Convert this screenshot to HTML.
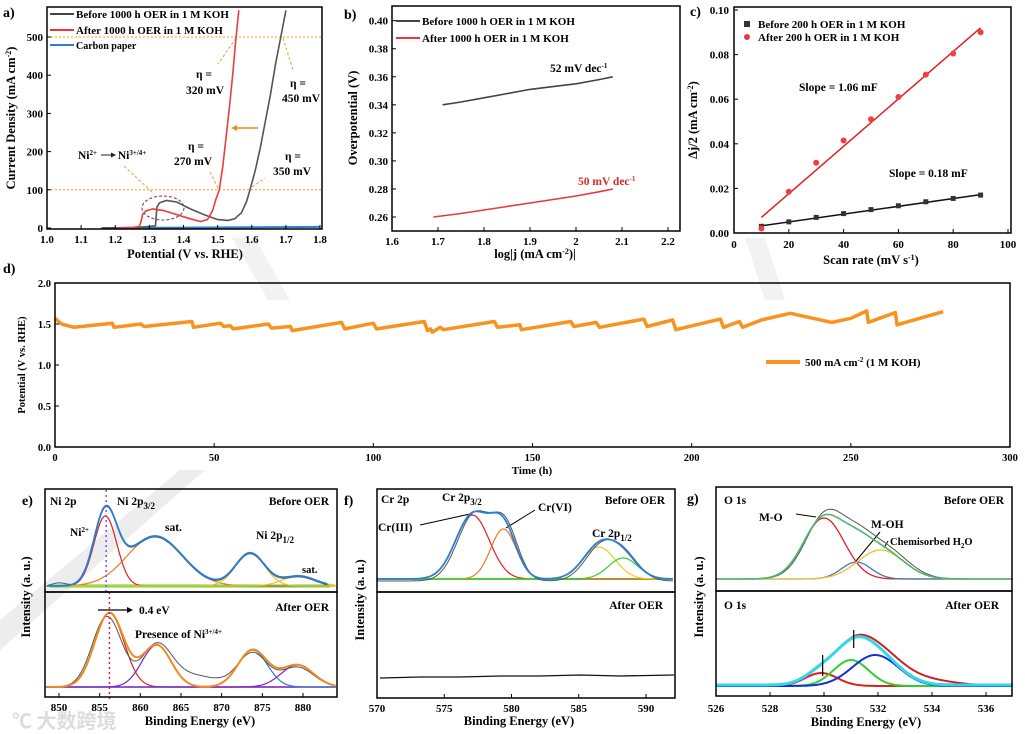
<!DOCTYPE html>
<html><head><meta charset="utf-8">
<style>
html,body{margin:0;padding:0;background:#fff;}
svg{display:block;font-family:"Liberation Serif","Noto Serif CJK SC",serif;font-weight:bold;}
.tk{font-size:11px;}
.tt{font-size:12.5px;}
.lg{font-size:11px;}
.an{font-size:11.5px;}
</style></head>
<body>
<svg id="chart" width="1025" height="734" viewBox="0 0 1025 734" xmlns="http://www.w3.org/2000/svg">
<rect x="0" y="0" width="1025" height="734" fill="#fff"/>
<polygon points="0,650 0,620 180,470 205,470" fill="#ededed"/>
<polygon points="232,238 255,238 290,300 268,300" fill="#f2f2f2"/>
<polygon points="745,238 765,238 785,300 765,300" fill="#f2f2f2"/>
<text x="12" y="728" fill="#dcdcdc" font-size="20" font-family="'Noto Sans CJK SC',sans-serif">℃ 大数跨境</text>

<!-- panel a -->
<g>
<text x="3" y="17" font-size="14">a)</text>
<text transform="translate(15,118) rotate(-90)" text-anchor="middle" class="tt">Current Density (mA cm<tspan dy="-4" font-size="8">-2</tspan><tspan dy="4">)</tspan></text>
<text x="185" y="258" text-anchor="middle" class="tt">Potential (V vs. RHE)</text>
<g class="lg">
<line x1="50" y1="14" x2="74" y2="14" stroke="#444" stroke-width="2"/>
<text x="76" y="18">Before 1000 h OER in 1 M KOH</text>
<line x1="50" y1="30" x2="74" y2="30" stroke="#e8383d" stroke-width="2"/>
<text x="76" y="34">After 1000 h OER in 1 M KOH</text>
<line x1="50" y1="45" x2="74" y2="45" stroke="#2a7fd4" stroke-width="2"/>
<text x="76" y="49" font-size="10">Carbon paper</text>
</g>
<g class="an">
<text x="196" y="78">η =</text>
<text x="186" y="94">320 mV</text>
<text x="290" y="87">η =</text>
<text x="282" y="102">450 mV</text>
<text x="188" y="150">η =</text>
<text x="174" y="165">270 mV</text>
<text x="285" y="160">η =</text>
<text x="273" y="175">350 mV</text>
<text x="78" y="159">Ni<tspan dy="-4" font-size="7">2+</tspan><tspan dy="4"> </tspan><tspan dx="18">Ni</tspan><tspan dy="-4" font-size="7">3+/4+</tspan></text>
</g>
<line x1="101" y1="155" x2="113" y2="155" stroke="#222" stroke-width="1"/>
<polygon points="116,155 111,152.5 111,157.5" fill="#222"/>
<ellipse cx="163" cy="208" rx="21" ry="12" fill="none" stroke="#8a2a6a" stroke-dasharray="3,2"/>
<g stroke="#f0a040" stroke-dasharray="3,2" stroke-width="1" fill="none">
<line x1="124" y1="166" x2="152" y2="192"/>
<line x1="236" y1="38" x2="218" y2="64"/>
<line x1="283" y1="38" x2="293" y2="70"/>
<line x1="218" y1="188" x2="210" y2="172"/>
<line x1="252" y1="187" x2="265" y2="178"/>
</g>
<line x1="258" y1="128" x2="236" y2="128" stroke="#f08a10" stroke-width="1.5"/>
<polygon points="231,128 237,125 237,131" fill="#f08a10"/>
</g>

<!-- panel b -->
<g>
<text x="344" y="19" font-size="14">b)</text>
<text transform="translate(357,118) rotate(-90)" text-anchor="middle" class="tt">Overpotential (V)</text>
<text x="535" y="258" text-anchor="middle" class="tt">log|j (mA cm<tspan dy="-4" font-size="8">-2</tspan><tspan dy="4">)|</tspan></text>
<line x1="396" y1="21" x2="420" y2="21" stroke="#444" stroke-width="2"/>
<text x="422" y="25" class="lg">Before 1000 h OER in 1 M KOH</text>
<line x1="396" y1="38" x2="420" y2="38" stroke="#e8383d" stroke-width="2"/>
<text x="422" y="42" class="lg">After 1000 h OER in 1 M KOH</text>
<text x="550" y="72" class="an">52 mV dec<tspan dy="-4" font-size="7">-1</tspan></text>
<text x="578" y="185" class="an" fill="#d62a2a">50 mV dec<tspan dy="-4" font-size="7">-1</tspan></text>
</g>

<!-- panel c -->
<g>
<text x="690" y="16" font-size="14">c)</text>
<text transform="translate(697,120) rotate(-90)" text-anchor="middle" class="tt">Δj/2 (mA cm<tspan dy="-4" font-size="8">-2</tspan><tspan dy="4">)</tspan></text>
<text x="871" y="264" text-anchor="middle" class="tt">Scan rate (mV s<tspan dy="-4" font-size="8">-1</tspan><tspan dy="4">)</tspan></text>
<rect x="744" y="21" width="6" height="6" fill="#333"/>
<text x="758" y="28" class="lg">Before 200 h OER in 1 M KOH</text>
<circle cx="747" cy="37" r="3" fill="#e8383d"/>
<text x="758" y="41" class="lg">After 200 h OER in 1 M KOH</text>
<text x="799" y="91" class="an">Slope = 1.06 mF</text>
<text x="889" y="177" class="an">Slope = 0.18 mF</text>
</g>

<!-- panel d -->
<g>
<text x="3" y="273" font-size="14">d)</text>
<text transform="translate(25,365) rotate(-90)" text-anchor="middle" font-size="10.5">Potential (V vs. RHE)</text>
<text x="532" y="474" text-anchor="middle" font-size="11">Time (h)</text>
<line x1="766" y1="362" x2="800" y2="362" stroke="#f7931e" stroke-width="4"/>
<text x="805" y="366" font-size="11">500 mA cm<tspan dy="-4" font-size="7">-2</tspan><tspan dy="4"> (1 M KOH)</tspan></text>
</g>

<!-- panel e -->
<g>
<text x="22" y="505" font-size="14">e)</text>
<text transform="translate(30,597) rotate(-90)" text-anchor="middle" class="tt">Intensity (a. u.)</text>
<text x="200" y="725" text-anchor="middle" class="tt">Binding Energy (eV)</text>
<text x="50" y="505" class="an">Ni 2p</text>
<text x="117" y="505" class="an">Ni 2p<tspan dy="4" font-size="9">3/2</tspan></text>
<text x="329" y="505" text-anchor="end" class="an">Before OER</text>
<text x="70" y="536" class="an">Ni<tspan dy="-4" font-size="7">2+</tspan></text>
<text x="165" y="531" class="an">sat.</text>
<text x="256" y="539" class="an">Ni 2p<tspan dy="4" font-size="9">1/2</tspan></text>
<text x="302" y="573" font-size="10.5">sat.</text>
<text x="329" y="611" text-anchor="end" class="an">After OER</text>
<line x1="98" y1="610" x2="128" y2="610" stroke="#000" stroke-width="1.2"/>
<polygon points="133,610 127,607 127,613" fill="#000"/>
<text x="139" y="614" class="an">0.4 eV</text>
<text x="135" y="638" class="an">Presence of Ni<tspan dy="-4" font-size="7">3+/4+</tspan></text>
</g>

<!-- panel f -->
<g>
<text x="344" y="505" font-size="14">f)</text>
<text transform="translate(364,600) rotate(-90)" text-anchor="middle" class="tt">Intensity (a. u.)</text>
<text x="519" y="725" text-anchor="middle" class="tt">Binding Energy (eV)</text>
<text x="381" y="503" class="an">Cr 2p</text>
<text x="442" y="501" class="an">Cr 2p<tspan dy="4" font-size="9">3/2</tspan></text>
<text x="538" y="511" class="an">Cr(VI)</text>
<text x="665" y="504" text-anchor="end" class="an">Before OER</text>
<text x="378" y="531" class="an">Cr(III)</text>
<text x="592" y="537" class="an">Cr 2p<tspan dy="4" font-size="9">1/2</tspan></text>
<text x="663" y="609" text-anchor="end" class="an">After OER</text>
<line x1="420" y1="525" x2="470" y2="514" stroke="#000"/>
<line x1="535" y1="510" x2="506" y2="528" stroke="#000"/>
</g>

<!-- panel g -->
<g>
<text x="687" y="503" font-size="14">g)</text>
<text transform="translate(703,597) rotate(-90)" text-anchor="middle" class="tt">Intensity (a. u.)</text>
<text x="866" y="726" text-anchor="middle" class="tt">Binding Energy (eV)</text>
<text x="724" y="504" class="an">O 1s</text>
<text x="1004" y="504" text-anchor="end" class="an">Before OER</text>
<text x="759" y="521" class="an">M-O</text>
<text x="871" y="528" class="an">M-OH</text>
<text x="890" y="545" font-size="10.5">Chemisorbed H<tspan dy="3" font-size="7">2</tspan><tspan dy="-3">O</tspan></text>
<text x="724" y="609" class="an">O 1s</text>
<text x="999" y="609" text-anchor="end" class="an">After OER</text>
<line x1="796" y1="514" x2="816" y2="517" stroke="#000"/>
<line x1="880" y1="532" x2="856" y2="561" stroke="#000"/>
<line x1="888" y1="541" x2="884" y2="548" stroke="#000"/>
</g>
</svg>
<script>
// ---------- data ----------
const aBeforeV = [1.16,1.25,1.30,1.318,1.322,1.33,1.35,1.38,1.42,1.46,1.50,1.53,1.55,1.57,1.585,1.595,1.61,1.625,1.64,1.655,1.67,1.685,1.70];
const aBeforeJ = [0,1,4,6,55,66,72,68,50,35,22,20,24,40,70,100,150,210,280,350,430,500,570];
const aAfterV = [1.20,1.25,1.27,1.275,1.28,1.29,1.31,1.34,1.38,1.42,1.45,1.47,1.485,1.495,1.505,1.515,1.525,1.535,1.545,1.553,1.562];
const aAfterJ = [0,1,4,15,35,45,50,46,35,24,17,22,45,75,100,160,240,320,410,490,570];
const aCarbonV = [1.16,1.4,1.6,1.8];
const aCarbonJ = [0,1,2,3];
const aXTicks = [1.0,1.1,1.2,1.3,1.4,1.5,1.6,1.7,1.8];
const aYTicks = [0,100,200,300,400,500];
const aRefLines = [100,500];
const bBeforeX = [1.71,1.75,1.80,1.85,1.90,1.95,2.00,2.05,2.08];
const bBeforeY = [0.340,0.342,0.345,0.348,0.351,0.353,0.355,0.358,0.360];
const bAfterX = [1.69,1.75,1.80,1.85,1.90,1.95,2.00,2.05,2.08];
const bAfterY = [0.260,0.2625,0.265,0.2675,0.270,0.2725,0.275,0.278,0.280];
const bXTicks = [1.6,1.7,1.8,1.9,2.0,2.1,2.2];
const bXTickLabels = ['1.6','1.7','1.8','1.9','2','2.1','2.2'];
const bYTicks = [0.26,0.28,0.30,0.32,0.34,0.36,0.38,0.40];
const cScan = [10,20,30,40,50,60,70,80,90];
const cBefore = [0.003,0.005,0.007,0.0087,0.0105,0.0122,0.014,0.0155,0.017];
const cAfter = [0.002,0.0185,0.0315,0.0415,0.051,0.061,0.071,0.0805,0.090];
const cFitBefore = [0.0032,0.0172];
const cFitAfter = [0.007,0.092];
const cXTicks = [0,20,40,60,80,100];
const cYTicks = [0,0.02,0.04,0.06,0.08,0.10];
const dTime = [0,2,6,18,18.5,27,28,43,43.5,52,53,55,56,67,68,74,74.5,90,91,100,101,116,117,118,118.5,121,122,138,139,146,146.5,162,163,170,171,185,186,194,195,209,210,215,216,222,231,244,250,255,255.5,264,264.5,279];
const dPot = [1.57,1.50,1.46,1.51,1.46,1.50,1.47,1.53,1.46,1.51,1.47,1.48,1.44,1.50,1.45,1.47,1.42,1.52,1.44,1.51,1.44,1.53,1.42,1.44,1.40,1.46,1.43,1.53,1.46,1.49,1.43,1.53,1.47,1.52,1.46,1.56,1.47,1.55,1.43,1.56,1.46,1.53,1.46,1.55,1.63,1.52,1.57,1.66,1.52,1.64,1.49,1.65];
const dXTicks = [0,50,100,150,200,250,300];
const dYTicks = [0,0.5,1.0,1.5,2.0];
const eBeforeCenters = [855.7,861.8,873.5,879.5];
const eBeforeHeights = [70,50,33,10];
const eBeforeSigmas = [1.4,3.4,1.8,2.0];
const eAfterCenters = [856.2,862.0,873.8,879.3];
const eAfterHeights = [74,42,37,22];
const eAfterSigmas = [1.8,1.8,1.8,2.0];
const fBeforeCenters = [577.1,579.4,586.5,588.3];
const fBeforeHeights = [64,50,32,21];
const fBeforeSigmas = [1.25,0.95,1.2,1.1];
const gBeforeCenters = [530.0,531.2,532.1];
const gBeforeHeights = [61,17,29];
const gBeforeSigmas = [0.75,0.55,0.85];
const gAfterCenters = [529.9,531.0,531.9];
const gAfterHeights = [13,26,31];
const gAfterSigmas = [0.6,0.65,0.85];
const eXTicks = [850,855,860,865,870,875,880];
const fXTicks = [570,575,580,585,590];
const gXTicks = [526,528,530,532,534,536];

const NS = 'http://www.w3.org/2000/svg';
const svg = document.getElementById('chart');
function mk(tag, attrs){const e=document.createElementNS(NS,tag);for(const k in attrs)e.setAttribute(k,attrs[k]);svg.appendChild(e);return e;}
function lin(d0,d1,r0,r1){return v=>r0+(v-d0)*(r1-r0)/(d1-d0);}
function poly(xs,ys,fx,fy){return xs.map((x,i)=>(i?'L':'M')+fx(x).toFixed(1)+','+fy(ys[i]).toFixed(1)).join('');}
function frame(x0,y0,x1,y1,name){
  const r=mk('rect',{x:x0,y:y0,width:x1-x0,height:y1-y0,fill:'none',stroke:'#000','stroke-width':1.5});
  
  
}
function xTicks(ticks,labels,fx,y,ly,name,fs){
  ticks.forEach((t,i)=>{
    const l=mk('line',{x1:fx(t),y1:y,x2:fx(t),y2:y-4,stroke:'#000'});
    
    
    const tx=mk('text',{x:fx(t),y:ly,'text-anchor':'middle','font-size':fs||11});
    tx.textContent=labels[i];
    
    
  });
}
function yTicks(ticks,labels,fy,x,lx,name,fs){
  ticks.forEach((t,i)=>{
    const l=mk('line',{x1:x,y1:fy(t),x2:x+4,y2:fy(t),stroke:'#000'});
    
    
    const tx=mk('text',{x:lx,y:fy(t)+4,'text-anchor':'end','font-size':fs||11});
    tx.textContent=labels[i];
    
    
  });
}
function gauss(c,h,s){return v=>h*Math.exp(-((v-c)*(v-c))/(2*s*s));}
function curve(fns,v0,v1,fx,base,color,w,name){
  let d='';const n=240;
  for(let i=0;i<=n;i++){const v=v0+(v1-v0)*i/n;let s=0;fns.forEach(f=>s+=f(v));d+=(i?'L':'M')+fx(v).toFixed(1)+','+(base-s).toFixed(1);}
  const p=mk('path',{d:d,fill:'none',stroke:color,'stroke-width':w});
  
  
  return p;
}

// panel a
const xa=lin(1.0,1.8,47,320), ya=lin(0,500,228,37);
aRefLines.forEach(v=>{
  const l=mk('line',{x1:47,x2:322,y1:ya(v),y2:ya(v),stroke:'#f39c12','stroke-dasharray':'2,2','stroke-width':1});
  
  
});
let p;
p=mk('path',{d:poly(aCarbonV,aCarbonJ,xa,ya),fill:'none',stroke:'#2a7fd4','stroke-width':2});


p=mk('path',{d:poly(aBeforeV,aBeforeJ,xa,ya),fill:'none',stroke:'#555','stroke-width':1.6});


p=mk('path',{d:poly(aAfterV,aAfterJ,xa,ya),fill:'none',stroke:'#ef3b3b','stroke-width':1.6});


frame(47,7,322,229,'panel-a-frame');
xTicks(aXTicks,aXTicks.map(t=>t.toFixed(1)),xa,229,243,'panel-a-x');
yTicks(aYTicks,aYTicks.map(String),ya,47,43,'panel-a-y');

// panel b
const xb=lin(1.6,2.2,392,668), yb=lin(0.26,0.40,217,20.7);
p=mk('path',{d:poly(bBeforeX,bBeforeY,xb,yb),fill:'none',stroke:'#444','stroke-width':1.6});


p=mk('path',{d:poly(bAfterX,bAfterY,xb,yb),fill:'none',stroke:'#e8383d','stroke-width':1.6});


frame(392,6,680,231,'panel-b-frame');
xTicks(bXTicks,bXTickLabels,xb,231,245,'panel-b-x');
yTicks(bYTicks,bYTicks.map(t=>t.toFixed(2)),yb,392,388,'panel-b-y');

// panel c
const xc=lin(0,100,734,1008), yc=lin(0,0.10,233,10);
p=mk('line',{x1:xc(cScan[0]),y1:yc(cFitAfter[0]),x2:xc(cScan[cScan.length-1]),y2:yc(cFitAfter[1]),stroke:'#e02020','stroke-width':1.5});


p=mk('line',{x1:xc(cScan[0]),y1:yc(cFitBefore[0]),x2:xc(cScan[cScan.length-1]),y2:yc(cFitBefore[1]),stroke:'#111','stroke-width':1.5});


cScan.forEach((s,i)=>{
  const r=mk('rect',{x:xc(s)-2.5,y:yc(cBefore[i])-2.5,width:5,height:5,fill:'#333'});
  
  
  const c=mk('circle',{cx:xc(s),cy:yc(cAfter[i]),r:3,fill:'#ef4040'});
  
  
});
frame(734,7,1011,233,'panel-c-frame');
xTicks(cXTicks,cXTicks.map(String),xc,233,248,'panel-c-x');
yTicks(cYTicks,cYTicks.map(t=>t.toFixed(2)),yc,734,729,'panel-c-y');

// panel d
const xd=lin(0,300,55,1010), yd=lin(0,2,447,283);
p=mk('path',{d:poly(dTime,dPot,xd,yd),fill:'none',stroke:'#f7931e','stroke-width':3.5,'stroke-linejoin':'round'});


frame(55,283,1010,447,'panel-d-frame');
xTicks(dXTicks,dXTicks.map(String),xd,447,461,'panel-d-x',10.5);
yTicks(dYTicks,dYTicks.map(t=>t.toFixed(1)),yd,55,51,'panel-d-y',10.5);

// panel e
const xe=lin(850,880,59,303);
const eB=eBeforeCenters.map((c,i)=>gauss(c,eBeforeHeights[i],eBeforeSigmas[i]));
const eA=eAfterCenters.map((c,i)=>gauss(c,eAfterHeights[i],eAfterSigmas[i]));
const eColB=['#e02020','#f07820','#e8c820','#e8c820'];
const eColA=['#e02020','#7b22c8','#2a7fd4','#7b22c8'];
p=mk('line',{x1:50,x2:330,y1:586,y2:586,stroke:'#44dd44','stroke-width':3});


eB.forEach((f,i)=>{curve([f],848.5,884,xe,586,eColB[i],1.2,'e-before-component');});
curve([...eB,gauss(850,4,1)],848.5,883,xe,587,'#555',1,'e-before-raw');
curve(eB,848.5,883,xe,586,'#2a7fd4',1.8,'e-before-envelope');
p=mk('line',{x1:46,x2:336,y1:687,y2:687,stroke:'#5020c0','stroke-width':1.2});


eA.forEach((f,i)=>{curve([f],848.5,884,xe,687,eColA[i],1.2,'e-after-component');});
curve([...eA.map((f,i)=>gauss(eAfterCenters[i]-(i==0?0.3:0),eAfterHeights[i]*(i==0?0.95:0.9),eAfterSigmas[i])),gauss(866,12,3.5)],848.5,884,xe,687,'#555',1,'e-after-raw');
curve(eA,848.5,884,xe,687,'#f08a20',2,'e-after-envelope');
p=mk('line',{x1:xe(855.8),x2:xe(855.8),y1:490,y2:592,stroke:'#9040ff','stroke-dasharray':'2,3','stroke-width':1.5});


p=mk('line',{x1:xe(856.2),x2:xe(856.2),y1:592,y2:700,stroke:'#e02040','stroke-dasharray':'2,3','stroke-width':1.5});


frame(45,489,337,592,'panel-e-top-frame');
frame(45,592,337,697,'panel-e-bottom-frame');
xTicks(eXTicks,eXTicks.map(String),xe,697,711,'panel-e-x');

// panel f
const xf=lin(570,590,377,646);
const fB=fBeforeCenters.map((c,i)=>gauss(c,fBeforeHeights[i],fBeforeSigmas[i]));
const fCol=['#e02020','#f07820','#e8d020','#30d030'];
p=mk('line',{x1:382,x2:670,y1:579,y2:579,stroke:'#44dd44','stroke-width':2});


fB.forEach((f,i)=>{curve([f],570,592,xf,579,fCol[i],1.2,'f-before-component');});
curve(fB.map((f,i)=>gauss(fBeforeCenters[i]+0.15,fBeforeHeights[i]*1.04,fBeforeSigmas[i])),570,592,xf,581,'#555',1,'f-before-raw');
curve(fB,570,592,xf,579,'#2a7fd4',1.8,'f-before-envelope');
p=mk('path',{d:'M380,678L420,677L460,677L500,676L540,676L580,675L620,676L674,675',fill:'none',stroke:'#111','stroke-width':1.3});


frame(377,489,675,592,'panel-f-top-frame');
frame(377,592,675,698,'panel-f-bottom-frame');
xTicks(fXTicks,fXTicks.map(String),xf,698,712,'panel-f-x');

// panel g
const xg=lin(526,536,716,986);
const gB=gBeforeCenters.map((c,i)=>gauss(c,gBeforeHeights[i],gBeforeSigmas[i]));
const gA=gAfterCenters.map((c,i)=>gauss(c,gAfterHeights[i],gAfterSigmas[i]));
const gColB=['#e02020','#4a78b0','#f0c030'];
const gColA=['#e02020','#30d030','#1030e0'];
gB.forEach((f,i)=>{curve([f],526,537,xg,579,gColB[i],1.3,'g-before-component');});
curve(gB.map((f,i)=>gauss(gBeforeCenters[i]+0.1,gBeforeHeights[i]*1.08,gBeforeSigmas[i])),526,537,xg,579,'#555',1,'g-before-raw');
curve(gB,526,537,xg,579,'#4cb870',1.6,'g-before-envelope');
curve([...gA,gauss(533.2,8,1.3)],526,535.8,xg,686,'#d02020',2,'g-after-raw');
gA.forEach((f,i)=>{curve([f],526,537,xg,686,gColA[i],2,'g-after-component');});
curve(gA,526,537,xg,685,'#30d8e8',3,'g-after-envelope');
p=mk('line',{x1:xg(529.95),x2:xg(529.95),y1:655,y2:676,stroke:'#000','stroke-width':1.2});


p=mk('line',{x1:xg(531.1),x2:xg(531.1),y1:648,y2:630,stroke:'#000','stroke-width':1.2});


frame(716,487,1012,591,'panel-g-top-frame');
frame(716,591,1012,696,'panel-g-bottom-frame');
xTicks(gXTicks,gXTicks.map(String),xg,696,712,'panel-g-x');
</script>
</body></html>
